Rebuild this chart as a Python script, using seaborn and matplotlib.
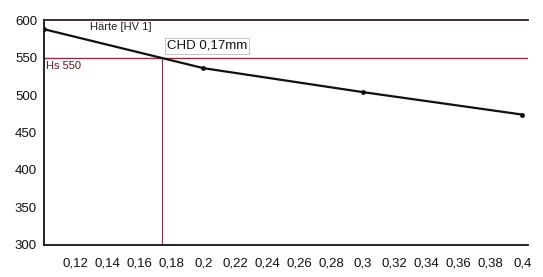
import matplotlib
matplotlib.use("Agg")
import matplotlib.pyplot as plt
import seaborn as sns
import pandas as pd

# Data
depth_mm = [0.10, 0.20, 0.30, 0.40]
hardness_hv = [588, 536, 504, 474]
hs_limit = 550
chd = 0.174
x_ticks = [0.12, 0.14, 0.16, 0.18, 0.2, 0.22, 0.24, 0.26, 0.28, 0.3, 0.32, 0.34, 0.36, 0.38, 0.4]
x_tick_labels = ["0,12", "0,14", "0,16", "0,18", "0,2", "0,22", "0,24", "0,26", "0,28", "0,3",
                 "0,32", "0,34", "0,36", "0,38", "0,4"]
y_ticks = [300, 350, 400, 450, 500, 550, 600]

sns.set_theme(style="white")
plt.rcParams['font.family'] = ['Liberation Sans', 'DejaVu Sans']

df = pd.DataFrame({"Tiefe": depth_mm, "Härte": hardness_hv})

fig = plt.figure(figsize=(5.43, 2.77), dpi=100)
ax = fig.add_axes([0.081, 0.116, 0.891, 0.811])

line_red = "#8a3040"
ax.axhline(hs_limit, color=line_red, lw=1.0, zorder=1)
ax.axvline(chd, ymin=0, ymax=(hs_limit - 300) / 300, color=line_red, lw=0.8, zorder=1)

sns.lineplot(data=df, x="Tiefe", y="Härte", ax=ax, color="#111111", lw=1.6,
             marker="o", markersize=3.5, markeredgewidth=0, zorder=3)

ax.set_xlim(0.1, 0.4035)
ax.set_ylim(300, 600)
ax.set_xticks(x_ticks)
ax.set_xticklabels(x_tick_labels, fontsize=9.5)
ax.set_yticks(y_ticks)
ax.set_yticklabels([str(v) for v in y_ticks], fontsize=9.5)
ax.tick_params(axis="x", length=0, pad=9, colors="#111111")
ax.tick_params(axis="y", length=0, pad=5, colors="#111111")
ax.set_xlabel("")
ax.set_ylabel("")

for side in ["left", "bottom"]:
    ax.spines[side].set_color("#111111")
    ax.spines[side].set_linewidth(1.3)
ax.spines["top"].set_color("#3a1a20")
ax.spines["top"].set_linewidth(1.3)
ax.spines["right"].set_visible(False)

ax.text(0.129, 597, "Härte [HV 1]", fontsize=8, color="#222222", va="top", ha="left")
ax.text(0.177, 566, "CHD 0,17mm", fontsize=9.5, color="#111111", va="center", ha="left",
        bbox=dict(boxstyle="square,pad=0.15", fc="white", ec="#bbbbbb", lw=0.6))
ax.text(0.101, 546, "Hs 550", fontsize=8, color="#5a1a28", va="top", ha="left")

fig.savefig("out.png", dpi=100)
